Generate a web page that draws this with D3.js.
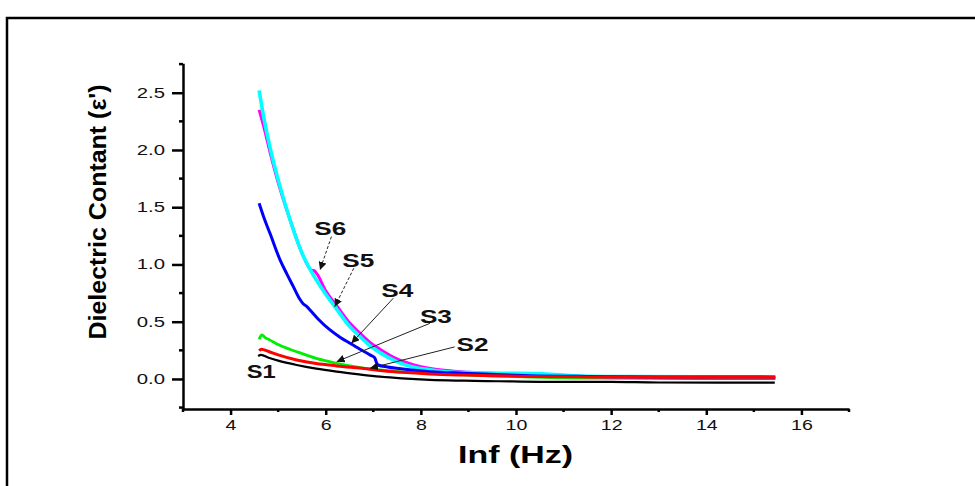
<!DOCTYPE html>
<html>
<head>
<meta charset="utf-8">
<script src="https://cdn.jsdelivr.net/npm/d3@7"></script>
<style>
  body { margin: 0; background: #fff; }
  svg { display: block; font-family: "Liberation Sans", Arial, sans-serif; }
</style>
</head>
<body>
<div id="chart"></div>
<script>
// data: [ln f, dielectric constant]
var s1 = [[4.58,0.20],[4.64,0.21],[4.8,0.185],[5.0,0.16],[5.39,0.122],[5.8,0.09],[6.23,0.064],[6.7,0.04],[7.14,0.02],[7.6,0.005],[8.19,-0.008],[8.9,-0.015],[9.66,-0.02],[10.5,-0.025],[12,-0.026],[13,-0.031],[15.44,-0.032]];
var s2 = [[4.6,0.247],[4.65,0.26],[4.8,0.24],[5.0,0.21],[5.39,0.166],[5.8,0.135],[6.23,0.114],[6.93,0.085],[7.14,0.073],[7.6,0.058],[8.19,0.044],[8.9,0.034],[9.59,0.027],[10.29,0.022],[11.5,0.018],[13,0.016],[14.5,0.015],[15.45,0.015]];
var s3 = [[4.6,0.347],[4.66,0.384],[4.72,0.364],[4.85,0.335],[5.0,0.30],[5.39,0.238],[5.8,0.18],[6.23,0.137],[6.7,0.102],[7.14,0.079],[7.6,0.062],[8.19,0.05],[8.9,0.036],[9.59,0.026],[10.3,0.016],[11.2,0.008],[12.5,0.006],[14,0.007],[15.45,0.008]];
var s4 = [[4.6,1.534],[4.7,1.41],[4.83,1.27],[5.04,1.04],[5.18,0.92],[5.32,0.806],[5.45,0.70],[5.53,0.655],[5.58,0.64],[5.62,0.625],[5.67,0.603],[5.85,0.52],[6.09,0.428],[6.3,0.365],[6.51,0.312],[6.72,0.26],[6.93,0.21],[7.03,0.185],[7.07,0.14],[7.1,0.122],[7.3,0.105],[7.49,0.093],[7.8,0.078],[8.19,0.064],[8.89,0.05],[9.6,0.038],[10.29,0.029],[11.5,0.022],[13,0.018],[15.45,0.016]];
var s5 = [[4.6,2.52],[4.7,2.28],[4.83,2.02],[5.04,1.68],[5.25,1.39],[5.5,1.1],[5.75,0.9],[6.0,0.74],[6.23,0.61],[6.5,0.46],[6.72,0.37],[6.93,0.29],[7.14,0.23],[7.5,0.15],[7.83,0.105],[8.2,0.08],[8.54,0.063],[9.0,0.055],[9.66,0.05],[10.56,0.045],[11.3,0.026],[12.5,0.02],[15.45,0.018]];
var s6 = [[4.6,2.35],[4.7,2.2],[4.83,1.98],[5.04,1.66],[5.25,1.39],[5.5,1.1],[5.7,0.95],[5.76,0.945],[5.82,0.915],[6.0,0.77],[6.23,0.64],[6.5,0.49],[6.72,0.40],[6.93,0.32],[7.14,0.26],[7.5,0.175],[7.84,0.125],[8.2,0.092],[8.54,0.073],[9.0,0.058],[10,0.038],[11,0.025],[12.5,0.012],[13.9,0.004],[15.45,0.004]];

var seriesNames = ['S1', 'S2', 'S3', 'S4', 'S5', 'S6'];
var seriesColors = ['#000000', '#ff0000', '#00ee00', '#0000ff', '#00ffff', '#ff00ff'];

var xTicks = [4, 6, 8, 10, 12, 14, 16];
var xMinor = [3, 5, 7, 9, 11, 13, 15, 17];
var yTicks = [0, 0.5, 1.0, 1.5, 2.0, 2.5];
var yMinor = [-0.25, 0.25, 0.75, 1.25, 1.75, 2.25, 2.75];

// label anchor [x, y] and arrow [fromX, fromY, toX, toY], in data units
var labelPos = [[4.34, 0.009], [8.75, 0.245], [7.98, 0.489], [7.17, 0.716], [6.35, 0.978], [5.76, 1.258]];
var arrows = [null, [8.71, 0.28, 6.93, 0.093], [8.19, 0.486, 6.23, 0.151], [7.42, 0.705, 6.54, 0.312], [6.59, 0.967, 6.19, 0.631], [6.12, 1.243, 5.88, 0.952]];

var width = 975, height = 486;

var svg = d3.select('#chart')
    .append('svg')
    .attr('width', width)
    .attr('height', height);

// outer frame of the figure
svg.append('rect')
    .attr('x', 7).attr('y', 18)
    .attr('width', 1000).attr('height', 600)
    .attr('fill', 'none')
    .attr('stroke', '#000')
    .attr('stroke-width', 2.5);

var x = d3.scaleLinear().domain([3, 17]).range([183, 849]);
var y = d3.scaleLinear().domain([-0.265, 2.757]).range([409.3, 63.3]);

// x axis
var xAxis = svg.append('g')
    .attr('transform', 'translate(0,409)')
    .call(d3.axisBottom(x).tickValues(xTicks).tickSize(6).tickPadding(5).tickSizeOuter(0).tickFormat(d3.format('d')));
xAxis.select('.domain').attr('stroke-width', 2.5);
xAxis.selectAll('.tick line').attr('stroke-width', 2.5);
xAxis.selectAll('.tick text')
    .attr('font-size', 14)
    .attr('font-family', '"Liberation Sans", Arial, sans-serif')
    .attr('fill', '#111')
    .attr('transform', 'scale(1.4,1)');

svg.append('g').selectAll('line')
    .data(xMinor)
    .enter()
    .append('line')
    .attr('x1', d => x(d)).attr('x2', d => x(d))
    .attr('y1', 409).attr('y2', 412)
    .attr('stroke', '#000')
    .attr('stroke-width', 2.5);

// y axis
var yAxis = svg.append('g')
    .attr('transform', 'translate(183,0)')
    .call(d3.axisLeft(y).tickValues(yTicks).tickSize(11).tickSizeOuter(0).tickFormat(d3.format('.1f')));
yAxis.select('.domain').attr('stroke-width', 2.5);
yAxis.selectAll('.tick line').attr('stroke-width', 2.5);
yAxis.selectAll('.tick text')
    .attr('font-size', 14)
    .attr('font-family', '"Liberation Sans", Arial, sans-serif')
    .attr('fill', '#111')
    .attr('x', -12.4)
    .attr('transform', 'scale(1.45,1)');

svg.append('g').selectAll('line')
    .data(yMinor)
    .enter()
    .append('line')
    .attr('x1', 179).attr('x2', 183)
    .attr('y1', d => y(d)).attr('y2', d => y(d))
    .attr('stroke', '#000')
    .attr('stroke-width', 2.5);

// axis titles
svg.append('text')
    .attr('transform', 'translate(106,212) rotate(-90)')
    .attr('text-anchor', 'middle')
    .attr('font-size', 24)
    .attr('font-weight', 'bold')
    .attr('textLength', 255)
    .attr('lengthAdjust', 'spacingAndGlyphs')
    .text("Dielectric Contant (\u03b5')");

svg.append('text')
    .attr('x', 515.5).attr('y', 463)
    .attr('text-anchor', 'middle')
    .attr('font-size', 23)
    .attr('font-weight', 'bold')
    .attr('textLength', 115)
    .attr('lengthAdjust', 'spacingAndGlyphs')
    .text('Inf (Hz)');

// curves
var line = d3.line()
    .x(d => x(d[0]))
    .y(d => y(d[1]))
    .curve(d3.curveMonotoneX);

var allSeries = [s1, s3, s6, s5, s4, s2];
var drawColors = [seriesColors[0], seriesColors[2], seriesColors[5], seriesColors[4], seriesColors[3], seriesColors[1]];
var drawWidths = [2.2, 2.8, 3, 3.6, 3, 3];

svg.selectAll('.curve')
    .data(allSeries)
    .enter()
    .append('path')
    .classed('curve', true)
    .attr('d', line)
    .attr('fill', 'none')
    .attr('stroke', (d, i) => drawColors[i])
    .attr('stroke-width', (d, i) => drawWidths[i])
    .attr('stroke-linejoin', 'round');

// arrow heads
svg.append('defs').append('marker')
    .attr('id', 'head')
    .attr('viewBox', '0 0 10 10')
    .attr('refX', 10).attr('refY', 5)
    .attr('markerWidth', 8).attr('markerHeight', 8)
    .attr('markerUnits', 'userSpaceOnUse')
    .attr('orient', 'auto')
    .append('path')
    .attr('d', 'M0,0 L10,5 L0,10 Z')
    .attr('fill', '#111');

svg.selectAll('.arrow')
    .data(arrows.filter(d => d))
    .enter()
    .append('line')
    .classed('arrow', true)
    .attr('x1', d => x(d[0])).attr('y1', d => y(d[1]))
    .attr('x2', d => x(d[2])).attr('y2', d => y(d[3]))
    .attr('stroke', '#222')
    .attr('stroke-width', 1)
    .attr('stroke-dasharray', d => d[1] > 0.9 ? '3,2' : null)
    .attr('marker-end', 'url(#head)');

svg.selectAll('.slabel')
    .data(seriesNames)
    .enter()
    .append('text')
    .classed('slabel', true)
    .attr('x', (d, i) => x(labelPos[i][0]))
    .attr('y', (d, i) => y(labelPos[i][1]))
    .attr('font-size', 17.5)
    .attr('font-weight', 'bold')
    .attr('textLength', (d, i) => i === 0 ? 29 : 32)
    .attr('lengthAdjust', 'spacingAndGlyphs')
    .attr('fill', '#111')
    .text(d => d);
</script>
</body>
</html>
